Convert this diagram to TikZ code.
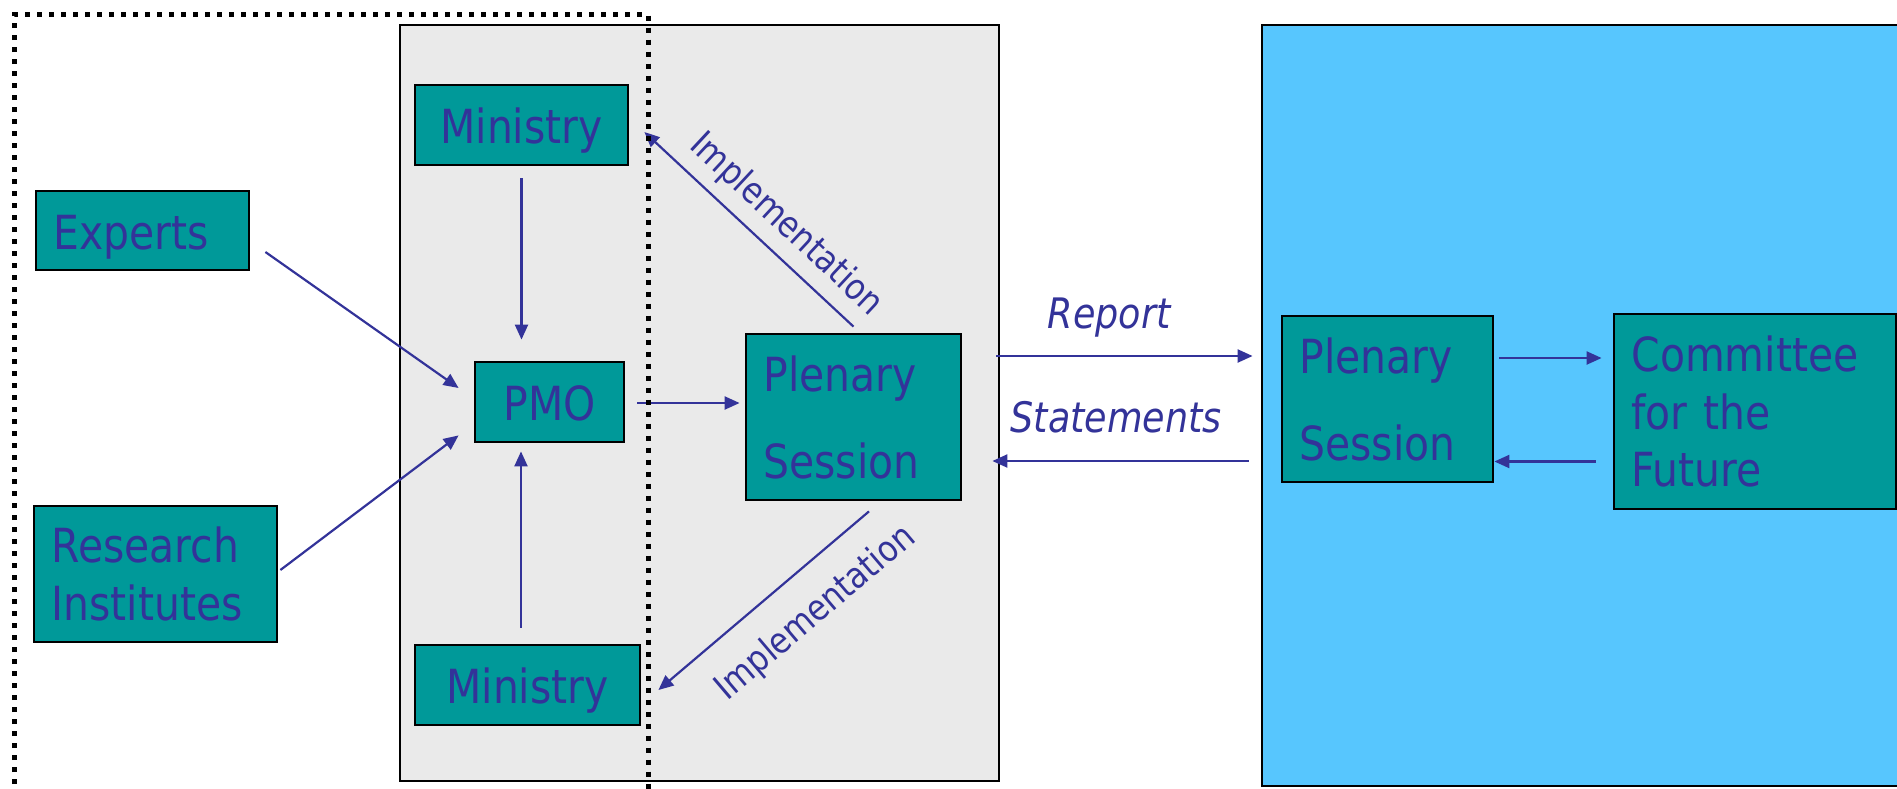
\documentclass[tikz,border=0pt]{standalone}
\usepackage{fontspec}
\setmainfont{DejaVu Sans}[FakeStretch=0.87]
\usetikzlibrary{arrows.meta,calc}
\definecolor{txt}{HTML}{333399}
\definecolor{teal0}{HTML}{009999}
\definecolor{gray0}{HTML}{EAEAEA}
\definecolor{blue0}{HTML}{57C6FE}
\newcommand{\boxfont}{\fontsize{23.5}{28.75}\selectfont}
\newcommand{\plenfont}{\fontsize{23.5}{43.5}\selectfont}
\newcommand{\labfont}{\fontsize{21}{25}\selectfont\itshape}
\newcommand{\implfont}{\fontsize{18}{21}\selectfont}
\begin{document}
\begin{tikzpicture}[x=0.5pt,y=-0.5pt,
  box/.style={draw=black, line width=1.4pt, fill=teal0, text=txt, font=\boxfont, inner sep=0pt},
  cbox/.style={box, text height=23.5pt, text depth=4.9pt},
  lbox/.style={align=left, inner xsep=8.75pt},
  panel/.style={draw=black, line width=1pt},
  arr/.style={draw=txt, line width=1.1pt, -{Triangle[length=7.5pt,width=6.5pt]}},
  lab/.style={text=txt, inner sep=0pt},
  dotbox/.style={draw=black, line width=2.5pt, dash pattern=on 2.5pt off 3.5pt}
]
\clip (0,0) rectangle (1897,788);
% panels
\draw[panel, fill=gray0] (400,25) rectangle (999,781);
\draw[panel, fill=blue0] (1262,25) rectangle (1960,786);
% boxes
\node[cbox, lbox, text width=89pt, minimum width=106.5pt, minimum height=39.5pt] (Experts) at (142.5,230.5) {Experts};
\node[box, lbox, text width=104pt, minimum width=121.5pt, minimum height=68pt] (Research) at (155.5,574) {Research\\Institutes};
\node[cbox, minimum width=106.5pt, minimum height=40pt] (MinTop) at (521.5,125) {Ministry};
\node[cbox, minimum width=74.5pt, minimum height=40pt] (PMO) at (549.5,402) {PMO};
\node[cbox, minimum width=112.5pt, minimum height=40pt] (MinBot) at (527.5,685) {Ministry};
\node[box, lbox, font=\plenfont, text width=90pt, minimum width=107.5pt, minimum height=83pt] (PlenL) at (853.5,417) {Plenary\\Session};
\node[box, lbox, font=\plenfont, text width=88pt, minimum width=105.5pt, minimum height=83pt] (PlenR) at (1387.5,399) {Plenary\\Session};
\node[box, lbox, text width=123.5pt, minimum width=141pt, minimum height=97.5pt] (Committee) at (1755,411.5) {Committee\\for the\\Future};
% connectors
\draw[arr] ($(MinTop.south)+(0,12)$) -- ($(MinTop.south|-PMO.north)+(0,-21)$);
\draw[arr] ($(MinBot.north)+(-6.5,-16)$) -- ($(MinBot.north|-PMO.south)+(-6.5,8)$);
\draw[arr] ($(Experts.east)+(15,21.5)$) -- ($(PMO.west)+(-15,-14)$);
\draw[arr] ($(Research.east)+(2,-4)$) -- ($(PMO.south west)+(-15,-8)$);
\draw[arr] ($(PMO.east)+(12,1)$) -- ($(PMO.east-|PlenL.west)+(-5,1)$);
\draw[arr] ($(PlenL.north)+(0,-6)$) -- node[lab, font=\implfont, sloped, pos=0.416, above=5pt] {Implementation} ($(MinTop.east)+(15,7)$);
\draw[arr] ($(PlenL.south)+(15.5,10)$) -- node[lab, font=\implfont, sloped, pos=0.385, below=12.5pt] {Implementation} ($(MinBot.east)+(17,5)$);
\draw[arr] ($(PlenL.east)+(34,-61)$) -- node[lab, font=\labfont, pos=0.44, yshift=19pt] {Report} ($(PlenR.west)+(-28,-43)$);
\draw[arr] ($(PlenR.west)+(-32,62)$) -- node[lab, font=\labfont, pos=0.517, yshift=22pt] {Statements} ($(PlenL.east)+(30,44)$);
\draw[arr] ($(PlenR.east)+(5,-41)$) -- ($(Committee.west)+(-11,-53.5)$);
\draw[arr] ($(Committee.west)+(-17,50)$) -- ($(PlenR.east)+(0,62.5)$);
% dotted frame
\draw[dotbox] (14.5,820) -- (14.5,14.5) -- (648,14.5) -- (648,820);
\end{tikzpicture}
\end{document}
